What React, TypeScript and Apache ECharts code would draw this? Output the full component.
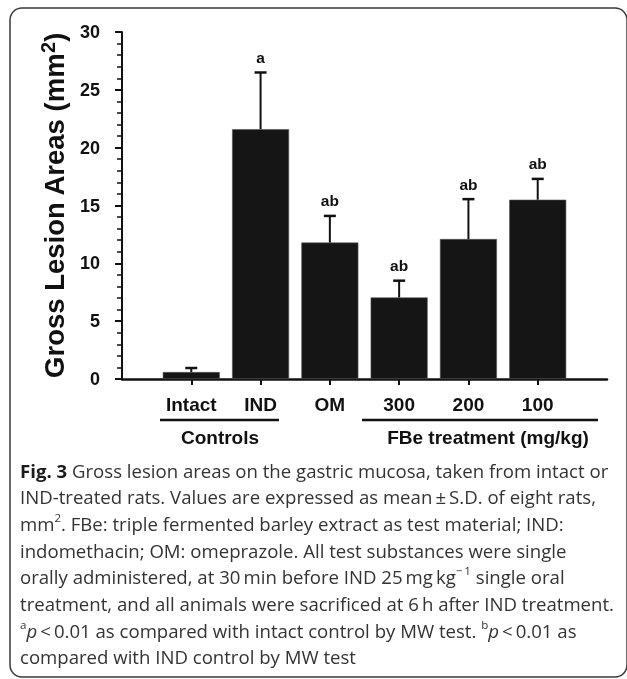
import React, { useEffect, useRef } from "react";
import * as echarts from "echarts";

const categories = ["Intact", "IND", "OM", "300", "200", "100"];
const means = [0.6, 21.6, 11.8, 7.05, 12.1, 15.5];
const sds = [0.35, 4.9, 2.3, 1.45, 3.45, 1.8];
const sigLabels = ["", "a", "ab", "ab", "ab", "ab"];
const groupLabels = ["Controls", "FBe treatment (mg/kg)"];
const captionLines = [
  "{b|Fig. 3} Gross lesion areas on the gastric mucosa, taken from intact or",
  "IND-treated rats. Values are expressed as mean\u2009±\u2009S.D. of eight rats,",
  "mm{sup|2}. FBe: triple fermented barley extract as test material; IND:",
  "indomethacin; OM: omeprazole. All test substances were single",
  "orally administered, at 30\u2009min before IND 25\u2009mg\u2009kg{sup|\u2212\u20091} single oral",
  "treatment, and all animals were sacrificed at 6\u2009h after IND treatment.",
  "{sup|a}{i|p}\u2009<\u20090.01 as compared with intact control by MW test. {sup|b}{i|p}\u2009<\u20090.01 as",
  "compared with IND control by MW test",
];

const FONT = "'Liberation Sans', Arial, sans-serif";
const CAP_FONT = "'Open Sans', 'Noto Sans', sans-serif";
const INK = "#111";
const CAP_INK = "#333";

export default function App() {
  const ref = useRef<HTMLDivElement>(null);
  useEffect(() => {
    if (!ref.current) return;
    const chart = echarts.init(ref.current, undefined, { renderer: "svg" });
    const positions = categories.map((_, i) => i + 1);
    const capSize = 18.6;
    const capStep = 26.7;
    const capRich = {
      t: { fontFamily: CAP_FONT, fontSize: capSize, fill: CAP_INK, lineHeight: 24 },
      b: { fontFamily: CAP_FONT, fontSize: capSize, fontWeight: "bold", fill: "#1a1a1a", lineHeight: 24 },
      sup: { fontFamily: CAP_FONT, fontSize: 11.5, fill: CAP_INK, verticalAlign: "top", lineHeight: 12 },
      i: { fontFamily: CAP_FONT, fontSize: capSize, fontStyle: "italic", fill: CAP_INK, lineHeight: 24 },
    };
    const captionEls = captionLines.map((t, k) => ({
      type: "text",
      x: 20,
      y: 470 + k * capStep,
      style: {
        text: t,
        fontFamily: CAP_FONT,
        fontSize: capSize,
        fill: CAP_INK,
        lineHeight: 24,
        verticalAlign: "middle",
        align: "left",
        rich: capRich,
      },
    }));
    chart.setOption({
      animation: false,
      textStyle: { fontFamily: FONT },
      grid: { left: 122, right: 20, top: 32, height: 347, containLabel: false },
      xAxis: {
        type: "value",
        min: 0,
        max: 7,
        interval: 1,
        axisLine: { show: true, lineStyle: { color: INK, width: 2.5 } },
        axisTick: { show: true, customValues: positions, length: 6, lineStyle: { color: INK, width: 2 } },
        axisLabel: {
          customValues: positions,
          formatter: (v: number) => categories[Math.round(v) - 1] ?? "",
          fontFamily: FONT,
          fontSize: 19,
          fontWeight: "bold",
          color: INK,
          margin: 16,
        },
        splitLine: { show: false },
      },
      yAxis: [
        {
          type: "value",
          min: 0,
          max: 30,
          interval: 5,
          position: "left",
          offset: 5,
          axisLine: { show: true, lineStyle: { color: INK, width: 2 } },
          axisTick: { show: true, length: 7, lineStyle: { color: INK, width: 2 } },
          axisLabel: { fontFamily: FONT, fontSize: 18, fontWeight: "bold", color: INK, margin: 17 },
          splitLine: { show: false },
          name: "{a|Gross Lesion Areas (mm}{s|2}{a|)}",
          nameLocation: "middle",
          nameGap: 47,
          nameTextStyle: {
            fontFamily: FONT,
            fontSize: 27.5,
            fontWeight: "bold",
            color: INK,
            rich: {
              a: { fontFamily: FONT, fontSize: 27.5, fontWeight: "bold", color: INK, lineHeight: 32 },
              s: { fontFamily: FONT, fontSize: 20, fontWeight: "bold", color: INK, verticalAlign: "top", lineHeight: 24 },
            },
          },
        },
        {
          type: "value",
          min: 0,
          max: 30,
          interval: 1,
          position: "left",
          offset: 5,
          axisLine: { show: false },
          axisTick: { show: true, inside: true, length: 4, lineStyle: { color: INK, width: 1.5 } },
          axisLabel: { show: false },
          splitLine: { show: false },
        },
      ],
      series: [
        {
          type: "bar",
          data: categories.map((_, i) => [positions[i], means[i]]),
          barWidth: 57,
          itemStyle: { color: "#151515", borderColor: "#555", borderWidth: 0.6 },
          z: 2,
        },
        {
          type: "custom",
          data: categories.map((_, i) => [positions[i], means[i], means[i] + sds[i]]),
          z: 3,
          renderItem: (params: any, api: any) => {
            const x = api.value(0);
            const base = api.coord([x, api.value(1)]);
            const top = api.coord([x, api.value(2)]);
            const label = sigLabels[params.dataIndex];
            const children: any[] = [
              { type: "line", shape: { x1: top[0], y1: base[1], x2: top[0], y2: top[1] }, style: { stroke: INK, lineWidth: 2 } },
              { type: "line", shape: { x1: top[0] - 6, y1: top[1], x2: top[0] + 6, y2: top[1] }, style: { stroke: INK, lineWidth: 2.5 } },
            ];
            if (label) {
              children.push({
                type: "text",
                x: top[0],
                y: top[1] - 15,
                style: { text: label, fontFamily: FONT, fontSize: 15.5, fontWeight: "bold", fill: INK, align: "center", verticalAlign: "middle" },
              });
            }
            return { type: "group", children };
          },
        },
      ],
      graphic: [
        {
          type: "rect",
          shape: { x: 10, y: 8, width: 617, height: 669, r: 12 },
          style: { fill: "none", stroke: "#3a3a3a", lineWidth: 1.5 },
          silent: true,
        },
        { type: "line", shape: { x1: 160, y1: 420, x2: 279, y2: 420 }, style: { stroke: INK, lineWidth: 2.5 } },
        { type: "line", shape: { x1: 362, y1: 420, x2: 598, y2: 420 }, style: { stroke: INK, lineWidth: 2.5 } },
        {
          type: "text",
          x: 220,
          y: 437,
          style: { text: groupLabels[0], fontFamily: FONT, fontSize: 19, fontWeight: "bold", fill: INK, align: "center", verticalAlign: "middle" },
        },
        {
          type: "text",
          x: 488,
          y: 437,
          style: { text: groupLabels[1], fontFamily: FONT, fontSize: 19, fontWeight: "bold", fill: INK, align: "center", verticalAlign: "middle" },
        },
        ...captionEls,
      ],
    });
    return () => chart.dispose();
  }, []);
  return <div ref={ref} style={{ position: "fixed", left: 0, top: 0, width: 627, height: 679 }} />;
}
